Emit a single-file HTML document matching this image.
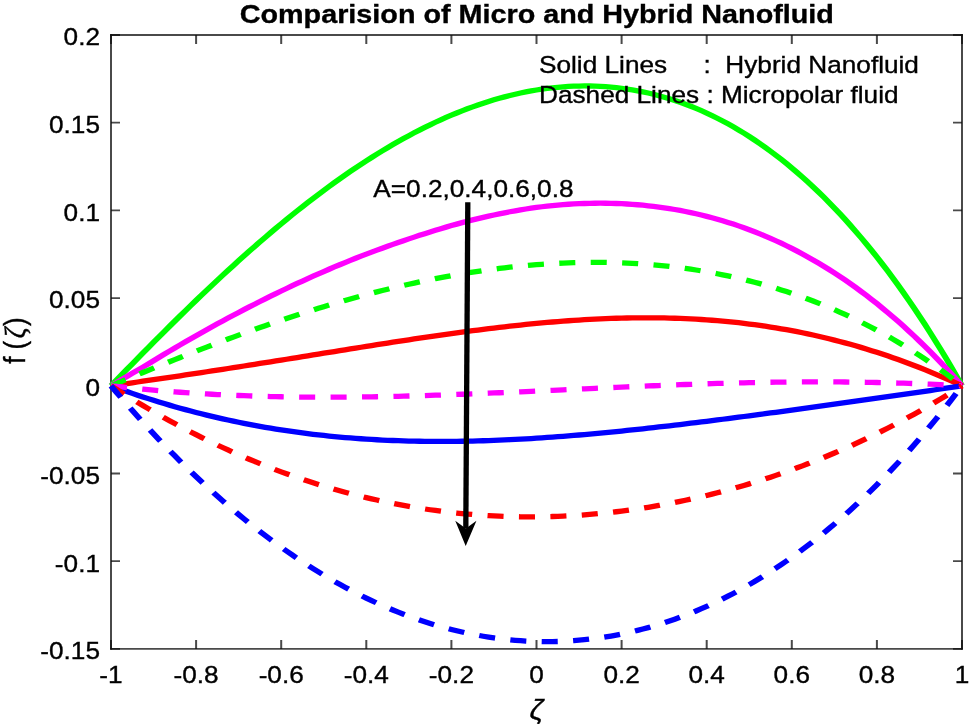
<!DOCTYPE html>
<html><head><meta charset="utf-8"><title>Comparision of Micro and Hybrid Nanofluid</title>
<style>
html,body{margin:0;padding:0;background:#fff;}
body{width:969px;height:724px;overflow:hidden;}
svg{display:block;}
svg text{font-family:"Liberation Sans",sans-serif;fill:#000;stroke:#000;stroke-width:0.35px;}
</style></head><body>
<svg width="969" height="724" viewBox="0 0 969 724">
<rect width="969" height="724" fill="#fff"/>
<g id="axes" stroke="#111111" stroke-opacity="0.76" fill="none">
<path d="M111.0,34.1 V649.8 M962.0,34.1 V649.8" stroke-width="2.0"/>
<path d="M110.0,35.0 H963.0 M110.0,648.9 H963.0" stroke-width="1.8"/>
<path d="M111.00,648.9 v-9 M111.00,35.0 v9 M196.10,648.9 v-9 M196.10,35.0 v9 M281.20,648.9 v-9 M281.20,35.0 v9 M366.30,648.9 v-9 M366.30,35.0 v9 M451.40,648.9 v-9 M451.40,35.0 v9 M536.50,648.9 v-9 M536.50,35.0 v9 M621.60,648.9 v-9 M621.60,35.0 v9 M706.70,648.9 v-9 M706.70,35.0 v9 M791.80,648.9 v-9 M791.80,35.0 v9 M876.90,648.9 v-9 M876.90,35.0 v9 M962.00,648.9 v-9 M962.00,35.0 v9" stroke-width="2.0"/>
<path d="M111.0,35.00 h9 M962.0,35.00 h-9 M111.0,122.70 h9 M962.0,122.70 h-9 M111.0,210.40 h9 M962.0,210.40 h-9 M111.0,298.10 h9 M962.0,298.10 h-9 M111.0,385.80 h9 M962.0,385.80 h-9 M111.0,473.50 h9 M962.0,473.50 h-9 M111.0,561.20 h9 M962.0,561.20 h-9 M111.0,648.90 h9 M962.0,648.90 h-9" stroke-width="1.8"/>
</g>
<g id="curves" transform="scale(1.115,1)">
<path d="M99.55,385.80 L104.32,380.31 L109.09,374.83 L113.86,369.36 L118.63,363.91 L123.40,358.49 L128.17,353.08 L132.94,347.69 L137.71,342.32 L142.48,336.98 L147.25,331.67 L152.02,326.38 L156.79,321.12 L161.56,315.89 L166.33,310.69 L171.10,305.53 L175.87,300.39 L180.64,295.30 L185.41,290.24 L190.18,285.21 L194.96,280.23 L199.73,275.28 L204.50,270.38 L209.27,265.52 L214.04,260.70 L218.81,255.93 L223.58,251.20 L228.35,246.52 L233.12,241.89 L237.89,237.31 L242.66,232.77 L247.43,228.29 L252.20,223.86 L256.97,219.48 L261.74,215.16 L266.51,210.89 L271.28,206.68 L276.05,202.53 L280.82,198.43 L285.59,194.40 L290.36,190.42 L295.13,186.50 L299.90,182.65 L304.67,178.86 L309.44,175.13 L314.21,171.47 L318.98,167.87 L323.75,164.33 L328.52,160.87 L333.29,157.47 L338.06,154.14 L342.83,150.88 L347.60,147.69 L352.37,144.57 L357.14,141.53 L361.91,138.55 L366.68,135.65 L371.45,132.83 L376.22,130.08 L380.99,127.40 L385.76,124.80 L390.53,122.28 L395.30,119.83 L400.07,117.47 L404.84,115.18 L409.61,112.98 L414.38,110.85 L419.15,108.81 L423.92,106.85 L428.69,104.97 L433.46,103.18 L438.23,101.47 L443.00,99.84 L447.77,98.30 L452.54,96.85 L457.32,95.49 L462.09,94.21 L466.86,93.02 L471.63,91.93 L476.40,90.92 L481.17,90.00 L485.94,89.18 L490.71,88.44 L495.48,87.80 L500.25,87.26 L505.02,86.81 L509.79,86.45 L514.56,86.19 L519.33,86.03 L524.10,85.96 L528.87,85.99 L533.64,86.12 L538.41,86.35 L543.18,86.69 L547.95,87.12 L552.72,87.65 L557.49,88.29 L562.26,89.03 L567.03,89.87 L571.80,90.82 L576.57,91.88 L581.34,93.04 L586.11,94.31 L590.88,95.69 L595.65,97.18 L600.42,98.77 L605.19,100.48 L609.96,102.30 L614.73,104.23 L619.50,106.28 L624.27,108.44 L629.04,110.71 L633.81,113.10 L638.58,115.61 L643.35,118.24 L648.12,120.98 L652.89,123.85 L657.66,126.83 L662.43,129.94 L667.20,133.17 L671.97,136.53 L676.74,140.01 L681.51,143.61 L686.28,147.34 L691.05,151.20 L695.82,155.19 L700.59,159.31 L705.36,163.56 L710.13,167.94 L714.90,172.46 L719.67,177.11 L724.45,181.90 L729.22,186.82 L733.99,191.88 L738.76,197.08 L743.53,202.43 L748.30,207.91 L753.07,213.54 L757.84,219.31 L762.61,225.23 L767.38,231.29 L772.15,237.51 L776.92,243.87 L781.69,250.39 L786.46,257.06 L791.23,263.88 L796.00,270.86 L800.77,277.99 L805.54,285.29 L810.31,292.74 L815.08,300.36 L819.85,308.14 L824.62,316.09 L829.39,324.20 L834.16,332.48 L838.93,340.93 L843.70,349.56 L848.47,358.35 L853.24,367.32 L858.01,376.47 L862.78,385.80" fill="none" stroke="#00ff00" stroke-width="5.3" stroke-linejoin="round"/>
<path d="M99.55,385.80 L104.32,382.63 L109.09,379.51 L113.86,376.41 L118.63,373.32 L123.40,370.22 L128.17,367.10 L132.94,363.95 L137.71,360.74 L142.48,357.51 L147.25,354.31 L152.02,351.14 L156.79,347.99 L161.56,344.88 L166.33,341.79 L171.10,338.73 L175.87,335.70 L180.64,332.69 L185.41,329.71 L190.18,326.76 L194.96,323.84 L199.73,320.95 L204.50,318.08 L209.27,315.25 L214.04,312.44 L218.81,309.66 L223.58,306.91 L228.35,304.18 L233.12,301.49 L237.89,298.83 L242.66,296.19 L247.43,293.59 L252.20,291.01 L256.97,288.47 L261.74,285.95 L266.51,283.47 L271.28,281.02 L276.05,278.60 L280.82,276.21 L285.59,273.85 L290.36,271.53 L295.13,269.24 L299.90,266.98 L304.67,264.75 L309.44,262.56 L314.21,260.40 L318.98,258.28 L323.75,256.19 L328.52,254.13 L333.29,252.11 L338.06,250.13 L342.83,248.18 L347.60,246.27 L352.37,244.38 L357.14,242.53 L361.91,240.69 L366.68,238.89 L371.45,237.11 L376.22,235.36 L380.99,233.64 L385.76,231.96 L390.53,230.31 L395.30,228.70 L400.07,227.13 L404.84,225.59 L409.61,224.10 L414.38,222.65 L419.15,221.25 L423.92,219.89 L428.69,218.58 L433.46,217.33 L438.23,216.12 L443.00,214.97 L447.77,213.86 L452.54,212.80 L457.32,211.78 L462.09,210.80 L466.86,209.88 L471.63,209.01 L476.40,208.20 L481.17,207.44 L485.94,206.75 L490.71,206.12 L495.48,205.56 L500.25,205.06 L505.02,204.64 L509.79,204.26 L514.56,203.95 L519.33,203.69 L524.10,203.48 L528.87,203.34 L533.64,203.25 L538.41,203.22 L543.18,203.26 L547.95,203.35 L552.72,203.51 L557.49,203.72 L562.26,204.01 L567.03,204.35 L571.80,204.76 L576.57,205.23 L581.34,205.78 L586.11,206.38 L590.88,207.06 L595.65,207.80 L600.42,208.62 L605.19,209.50 L609.96,210.46 L614.73,211.48 L619.50,212.58 L624.27,213.76 L629.04,215.00 L633.81,216.33 L638.58,217.73 L643.35,219.20 L648.12,220.75 L652.89,222.39 L657.66,224.10 L662.43,225.89 L667.20,227.76 L671.97,229.72 L676.74,231.75 L681.51,233.88 L686.28,236.08 L691.05,238.37 L695.82,240.75 L700.59,243.22 L705.36,245.77 L710.13,248.42 L714.90,251.15 L719.67,253.97 L724.45,256.89 L729.22,259.90 L733.99,263.00 L738.76,266.20 L743.53,269.50 L748.30,272.89 L753.07,276.38 L757.84,279.96 L762.61,283.65 L767.38,287.44 L772.15,291.33 L776.92,295.32 L781.69,299.41 L786.46,303.61 L791.23,307.92 L796.00,312.33 L800.77,316.85 L805.54,321.47 L810.31,326.21 L815.08,331.06 L819.85,336.01 L824.62,341.08 L829.39,346.27 L834.16,351.56 L838.93,356.98 L843.70,362.50 L848.47,368.15 L853.24,373.91 L858.01,379.80 L862.78,385.80" fill="none" stroke="#ff00ff" stroke-width="5.3" stroke-linejoin="round"/>
<path d="M99.55,385.80 L104.32,385.04 L109.09,384.29 L113.86,383.53 L118.63,382.76 L123.40,382.00 L128.17,381.23 L132.94,380.46 L137.71,379.69 L142.48,378.91 L147.25,378.13 L152.02,377.35 L156.79,376.56 L161.56,375.77 L166.33,374.98 L171.10,374.18 L175.87,373.38 L180.64,372.57 L185.41,371.76 L190.18,370.95 L194.96,370.13 L199.73,369.31 L204.50,368.49 L209.27,367.66 L214.04,366.83 L218.81,366.00 L223.58,365.16 L228.35,364.32 L233.12,363.48 L237.89,362.64 L242.66,361.79 L247.43,360.94 L252.20,360.09 L256.97,359.24 L261.74,358.38 L266.51,357.52 L271.28,356.67 L276.05,355.81 L280.82,354.95 L285.59,354.09 L290.36,353.23 L295.13,352.37 L299.90,351.52 L304.67,350.66 L309.44,349.80 L314.21,348.95 L318.98,348.10 L323.75,347.25 L328.52,346.40 L333.29,345.56 L338.06,344.72 L342.83,343.88 L347.60,343.05 L352.37,342.22 L357.14,341.40 L361.91,340.59 L366.68,339.78 L371.45,338.97 L376.22,338.18 L380.99,337.39 L385.76,336.61 L390.53,335.84 L395.30,335.07 L400.07,334.32 L404.84,333.57 L409.61,332.84 L414.38,332.12 L419.15,331.41 L423.92,330.71 L428.69,330.02 L433.46,329.35 L438.23,328.69 L443.00,328.04 L447.77,327.41 L452.54,326.79 L457.32,326.19 L462.09,325.60 L466.86,325.03 L471.63,324.48 L476.40,323.95 L481.17,323.43 L485.94,322.93 L490.71,322.46 L495.48,322.00 L500.25,321.56 L505.02,321.15 L509.79,320.75 L514.56,320.38 L519.33,320.03 L524.10,319.70 L528.87,319.40 L533.64,319.12 L538.41,318.87 L543.18,318.64 L547.95,318.44 L552.72,318.26 L557.49,318.11 L562.26,317.99 L567.03,317.90 L571.80,317.84 L576.57,317.80 L581.34,317.79 L586.11,317.82 L590.88,317.88 L595.65,317.96 L600.42,318.08 L605.19,318.23 L609.96,318.42 L614.73,318.63 L619.50,318.88 L624.27,319.17 L629.04,319.49 L633.81,319.84 L638.58,320.24 L643.35,320.66 L648.12,321.13 L652.89,321.63 L657.66,322.17 L662.43,322.74 L667.20,323.36 L671.97,324.01 L676.74,324.71 L681.51,325.44 L686.28,326.21 L691.05,327.03 L695.82,327.88 L700.59,328.78 L705.36,329.71 L710.13,330.69 L714.90,331.71 L719.67,332.78 L724.45,333.89 L729.22,335.04 L733.99,336.23 L738.76,337.47 L743.53,338.75 L748.30,340.08 L753.07,341.45 L757.84,342.87 L762.61,344.33 L767.38,345.84 L772.15,347.39 L776.92,348.99 L781.69,350.64 L786.46,352.33 L791.23,354.07 L796.00,355.85 L800.77,357.69 L805.54,359.57 L810.31,361.49 L815.08,363.47 L819.85,365.49 L824.62,367.55 L829.39,369.67 L834.16,371.83 L838.93,374.04 L843.70,376.30 L848.47,378.60 L853.24,380.95 L858.01,383.35 L862.78,385.80" fill="none" stroke="#ff0000" stroke-width="5.3" stroke-linejoin="round"/>
<path d="M99.55,385.80 L104.32,387.75 L109.09,389.65 L113.86,391.52 L118.63,393.36 L123.40,395.15 L128.17,396.91 L132.94,398.63 L137.71,400.31 L142.48,401.96 L147.25,403.56 L152.02,405.13 L156.79,406.67 L161.56,408.17 L166.33,409.63 L171.10,411.05 L175.87,412.44 L180.64,413.79 L185.41,415.11 L190.18,416.39 L194.96,417.64 L199.73,418.85 L204.50,420.02 L209.27,421.16 L214.04,422.27 L218.81,423.34 L223.58,424.38 L228.35,425.38 L233.12,426.35 L237.89,427.29 L242.66,428.19 L247.43,429.06 L252.20,429.90 L256.97,430.70 L261.74,431.48 L266.51,432.22 L271.28,432.93 L276.05,433.61 L280.82,434.26 L285.59,434.88 L290.36,435.46 L295.13,436.02 L299.90,436.55 L304.67,437.05 L309.44,437.52 L314.21,437.96 L318.98,438.38 L323.75,438.76 L328.52,439.12 L333.29,439.45 L338.06,439.76 L342.83,440.03 L347.60,440.28 L352.37,440.51 L357.14,440.71 L361.91,440.89 L366.68,441.04 L371.45,441.16 L376.22,441.26 L380.99,441.34 L385.76,441.40 L390.53,441.43 L395.30,441.44 L400.07,441.43 L404.84,441.39 L409.61,441.34 L414.38,441.26 L419.15,441.16 L423.92,441.05 L428.69,440.91 L433.46,440.75 L438.23,440.58 L443.00,440.38 L447.77,440.17 L452.54,439.94 L457.32,439.69 L462.09,439.42 L466.86,439.14 L471.63,438.84 L476.40,438.52 L481.17,438.19 L485.94,437.84 L490.71,437.48 L495.48,437.10 L500.25,436.71 L505.02,436.30 L509.79,435.88 L514.56,435.45 L519.33,435.01 L524.10,434.55 L528.87,434.08 L533.64,433.59 L538.41,433.10 L543.18,432.59 L547.95,432.08 L552.72,431.55 L557.49,431.01 L562.26,430.47 L567.03,429.91 L571.80,429.34 L576.57,428.77 L581.34,428.18 L586.11,427.59 L590.88,426.99 L595.65,426.38 L600.42,425.77 L605.19,425.14 L609.96,424.51 L614.73,423.88 L619.50,423.23 L624.27,422.59 L629.04,421.93 L633.81,421.27 L638.58,420.60 L643.35,419.93 L648.12,419.25 L652.89,418.57 L657.66,417.89 L662.43,417.20 L667.20,416.50 L671.97,415.80 L676.74,415.10 L681.51,414.39 L686.28,413.68 L691.05,412.97 L695.82,412.26 L700.59,411.54 L705.36,410.82 L710.13,410.09 L714.90,409.36 L719.67,408.64 L724.45,407.90 L729.22,407.17 L733.99,406.43 L738.76,405.70 L743.53,404.96 L748.30,404.21 L753.07,403.47 L757.84,402.72 L762.61,401.98 L767.38,401.23 L772.15,400.48 L776.92,399.72 L781.69,398.97 L786.46,398.21 L791.23,397.45 L796.00,396.69 L800.77,395.93 L805.54,395.17 L810.31,394.40 L815.08,393.63 L819.85,392.86 L824.62,392.09 L829.39,391.31 L834.16,390.53 L838.93,389.75 L843.70,388.97 L848.47,388.18 L853.24,387.39 L858.01,386.60 L862.78,385.80" fill="none" stroke="#0000ff" stroke-width="5.3" stroke-linejoin="round"/>
<path d="M99.55,385.80 L104.32,383.57 L109.09,381.35 L113.86,379.13 L118.63,376.92 L123.40,374.72 L128.17,372.53 L132.94,370.35 L137.71,368.18 L142.48,366.01 L147.25,363.86 L152.02,361.72 L156.79,359.59 L161.56,357.48 L166.33,355.37 L171.10,353.28 L175.87,351.21 L180.64,349.15 L185.41,347.10 L190.18,345.07 L194.96,343.05 L199.73,341.05 L204.50,339.07 L209.27,337.11 L214.04,335.16 L218.81,333.23 L223.58,331.32 L228.35,329.42 L233.12,327.55 L237.89,325.69 L242.66,323.86 L247.43,322.04 L252.20,320.25 L256.97,318.47 L261.74,316.72 L266.51,314.99 L271.28,313.28 L276.05,311.60 L280.82,309.93 L285.59,308.29 L290.36,306.67 L295.13,305.08 L299.90,303.51 L304.67,301.97 L309.44,300.45 L314.21,298.95 L318.98,297.48 L323.75,296.03 L328.52,294.62 L333.29,293.22 L338.06,291.86 L342.83,290.52 L347.60,289.21 L352.37,287.92 L357.14,286.66 L361.91,285.43 L366.68,284.23 L371.45,283.06 L376.22,281.92 L380.99,280.80 L385.76,279.72 L390.53,278.66 L395.30,277.64 L400.07,276.65 L404.84,275.68 L409.61,274.75 L414.38,273.85 L419.15,272.98 L423.92,272.14 L428.69,271.33 L433.46,270.56 L438.23,269.82 L443.00,269.11 L447.77,268.43 L452.54,267.79 L457.32,267.19 L462.09,266.61 L466.86,266.07 L471.63,265.57 L476.40,265.10 L481.17,264.67 L485.94,264.27 L490.71,263.91 L495.48,263.59 L500.25,263.30 L505.02,263.05 L509.79,262.84 L514.56,262.66 L519.33,262.53 L524.10,262.43 L528.87,262.37 L533.64,262.35 L538.41,262.37 L543.18,262.43 L547.95,262.53 L552.72,262.68 L557.49,262.86 L562.26,263.08 L567.03,263.35 L571.80,263.66 L576.57,264.01 L581.34,264.41 L586.11,264.85 L590.88,265.34 L595.65,265.86 L600.42,266.44 L605.19,267.06 L609.96,267.73 L614.73,268.44 L619.50,269.20 L624.27,270.01 L629.04,270.87 L633.81,271.77 L638.58,272.73 L643.35,273.73 L648.12,274.79 L652.89,275.89 L657.66,277.05 L662.43,278.26 L667.20,279.52 L671.97,280.84 L676.74,282.21 L681.51,283.64 L686.28,285.12 L691.05,286.65 L695.82,288.24 L700.59,289.89 L705.36,291.60 L710.13,293.37 L714.90,295.20 L719.67,297.08 L724.45,299.03 L729.22,301.04 L733.99,303.11 L738.76,305.24 L743.53,307.44 L748.30,309.70 L753.07,312.03 L757.84,314.43 L762.61,316.89 L767.38,319.42 L772.15,322.02 L776.92,324.69 L781.69,327.43 L786.46,330.24 L791.23,333.13 L796.00,336.08 L800.77,339.12 L805.54,342.22 L810.31,345.41 L815.08,348.67 L819.85,352.01 L824.62,355.43 L829.39,358.94 L834.16,362.52 L838.93,366.18 L843.70,369.94 L848.47,373.77 L853.24,377.69 L858.01,381.70 L862.78,385.80" fill="none" stroke="#00ff00" stroke-width="5.3" stroke-linejoin="round" stroke-dasharray="14.4 13.8"/>
<path d="M99.55,385.80 L104.32,386.40 L109.09,386.99 L113.86,387.55 L118.63,388.10 L123.40,388.63 L128.17,389.15 L132.94,389.64 L137.71,390.12 L142.48,390.58 L147.25,391.02 L152.02,391.45 L156.79,391.86 L161.56,392.25 L166.33,392.63 L171.10,392.99 L175.87,393.33 L180.64,393.66 L185.41,393.97 L190.18,394.26 L194.96,394.55 L199.73,394.81 L204.50,395.06 L209.27,395.29 L214.04,395.51 L218.81,395.72 L223.58,395.91 L228.35,396.09 L233.12,396.25 L237.89,396.40 L242.66,396.53 L247.43,396.66 L252.20,396.77 L256.97,396.86 L261.74,396.95 L266.51,397.02 L271.28,397.08 L276.05,397.12 L280.82,397.16 L285.59,397.18 L290.36,397.19 L295.13,397.19 L299.90,397.18 L304.67,397.16 L309.44,397.13 L314.21,397.09 L318.98,397.03 L323.75,396.97 L328.52,396.90 L333.29,396.82 L338.06,396.73 L342.83,396.63 L347.60,396.53 L352.37,396.41 L357.14,396.29 L361.91,396.16 L366.68,396.02 L371.45,395.87 L376.22,395.72 L380.99,395.56 L385.76,395.39 L390.53,395.22 L395.30,395.04 L400.07,394.86 L404.84,394.67 L409.61,394.47 L414.38,394.27 L419.15,394.06 L423.92,393.85 L428.69,393.64 L433.46,393.42 L438.23,393.20 L443.00,392.97 L447.77,392.74 L452.54,392.51 L457.32,392.27 L462.09,392.04 L466.86,391.79 L471.63,391.55 L476.40,391.31 L481.17,391.06 L485.94,390.81 L490.71,390.57 L495.48,390.32 L500.25,390.07 L505.02,389.82 L509.79,389.57 L514.56,389.32 L519.33,389.07 L524.10,388.82 L528.87,388.57 L533.64,388.32 L538.41,388.08 L543.18,387.83 L547.95,387.59 L552.72,387.35 L557.49,387.11 L562.26,386.87 L567.03,386.64 L571.80,386.41 L576.57,386.19 L581.34,385.96 L586.11,385.74 L590.88,385.53 L595.65,385.32 L600.42,385.11 L605.19,384.91 L609.96,384.71 L614.73,384.51 L619.50,384.33 L624.27,384.14 L629.04,383.97 L633.81,383.80 L638.58,383.63 L643.35,383.47 L648.12,383.32 L652.89,383.18 L657.66,383.04 L662.43,382.91 L667.20,382.78 L671.97,382.66 L676.74,382.55 L681.51,382.45 L686.28,382.36 L691.05,382.27 L695.82,382.19 L700.59,382.13 L705.36,382.07 L710.13,382.01 L714.90,381.97 L719.67,381.94 L724.45,381.91 L729.22,381.90 L733.99,381.89 L738.76,381.90 L743.53,381.91 L748.30,381.94 L753.07,381.97 L757.84,382.01 L762.61,382.07 L767.38,382.13 L772.15,382.21 L776.92,382.30 L781.69,382.39 L786.46,382.50 L791.23,382.62 L796.00,382.75 L800.77,382.89 L805.54,383.05 L810.31,383.21 L815.08,383.39 L819.85,383.58 L824.62,383.78 L829.39,383.99 L834.16,384.21 L838.93,384.45 L843.70,384.69 L848.47,384.95 L853.24,385.22 L858.01,385.50 L862.78,385.80" fill="none" stroke="#ff00ff" stroke-width="5.3" stroke-linejoin="round" stroke-dasharray="14.4 13.8"/>
<path d="M99.55,385.80 L104.32,389.20 L109.09,392.55 L113.86,395.86 L118.63,399.12 L123.40,402.34 L128.17,405.51 L132.94,408.63 L137.71,411.71 L142.48,414.74 L147.25,417.72 L152.02,420.66 L156.79,423.56 L161.56,426.40 L166.33,429.20 L171.10,431.96 L175.87,434.67 L180.64,437.33 L185.41,439.95 L190.18,442.52 L194.96,445.04 L199.73,447.52 L204.50,449.96 L209.27,452.35 L214.04,454.69 L218.81,456.99 L223.58,459.25 L228.35,461.45 L233.12,463.62 L237.89,465.74 L242.66,467.81 L247.43,469.84 L252.20,471.83 L256.97,473.77 L261.74,475.66 L266.51,477.51 L271.28,479.32 L276.05,481.09 L280.82,482.81 L285.59,484.48 L290.36,486.11 L295.13,487.70 L299.90,489.25 L304.67,490.75 L309.44,492.21 L314.21,493.62 L318.98,494.99 L323.75,496.32 L328.52,497.61 L333.29,498.85 L338.06,500.05 L342.83,501.21 L347.60,502.33 L352.37,503.40 L357.14,504.43 L361.91,505.42 L366.68,506.37 L371.45,507.28 L376.22,508.14 L380.99,508.96 L385.76,509.75 L390.53,510.49 L395.30,511.18 L400.07,511.84 L404.84,512.46 L409.61,513.03 L414.38,513.57 L419.15,514.06 L423.92,514.52 L428.69,514.93 L433.46,515.30 L438.23,515.64 L443.00,515.93 L447.77,516.18 L452.54,516.39 L457.32,516.57 L462.09,516.70 L466.86,516.79 L471.63,516.85 L476.40,516.86 L481.17,516.83 L485.94,516.77 L490.71,516.66 L495.48,516.52 L500.25,516.34 L505.02,516.11 L509.79,515.85 L514.56,515.55 L519.33,515.21 L524.10,514.84 L528.87,514.42 L533.64,513.96 L538.41,513.47 L543.18,512.94 L547.95,512.36 L552.72,511.75 L557.49,511.10 L562.26,510.41 L567.03,509.69 L571.80,508.92 L576.57,508.12 L581.34,507.28 L586.11,506.39 L590.88,505.47 L595.65,504.51 L600.42,503.52 L605.19,502.48 L609.96,501.41 L614.73,500.29 L619.50,499.14 L624.27,497.95 L629.04,496.72 L633.81,495.45 L638.58,494.14 L643.35,492.79 L648.12,491.41 L652.89,489.98 L657.66,488.51 L662.43,487.01 L667.20,485.46 L671.97,483.88 L676.74,482.26 L681.51,480.59 L686.28,478.89 L691.05,477.14 L695.82,475.36 L700.59,473.53 L705.36,471.67 L710.13,469.76 L714.90,467.81 L719.67,465.83 L724.45,463.80 L729.22,461.72 L733.99,459.61 L738.76,457.46 L743.53,455.26 L748.30,453.02 L753.07,450.74 L757.84,448.41 L762.61,446.04 L767.38,443.63 L772.15,441.18 L776.92,438.68 L781.69,436.13 L786.46,433.54 L791.23,430.91 L796.00,428.23 L800.77,425.51 L805.54,422.74 L810.31,419.92 L815.08,417.06 L819.85,414.15 L824.62,411.20 L829.39,408.19 L834.16,405.14 L838.93,402.04 L843.70,398.89 L848.47,395.69 L853.24,392.45 L858.01,389.15 L862.78,385.80" fill="none" stroke="#ff0000" stroke-width="5.3" stroke-linejoin="round" stroke-dasharray="14.4 13.8"/>
<path d="M99.55,385.80 L104.32,392.08 L109.09,398.28 L113.86,404.39 L118.63,410.43 L123.40,416.39 L128.17,422.26 L132.94,428.06 L137.71,433.78 L142.48,439.42 L147.25,444.97 L152.02,450.45 L156.79,455.85 L161.56,461.17 L166.33,466.41 L171.10,471.57 L175.87,476.65 L180.64,481.65 L185.41,486.58 L190.18,491.42 L194.96,496.19 L199.73,500.88 L204.50,505.49 L209.27,510.02 L214.04,514.47 L218.81,518.84 L223.58,523.14 L228.35,527.36 L233.12,531.50 L237.89,535.56 L242.66,539.55 L247.43,543.45 L252.20,547.28 L256.97,551.04 L261.74,554.71 L266.51,558.31 L271.28,561.83 L276.05,565.28 L280.82,568.64 L285.59,571.93 L290.36,575.15 L295.13,578.28 L299.90,581.34 L304.67,584.33 L309.44,587.24 L314.21,590.07 L318.98,592.82 L323.75,595.50 L328.52,598.11 L333.29,600.63 L338.06,603.09 L342.83,605.46 L347.60,607.76 L352.37,609.98 L357.14,612.13 L361.91,614.21 L366.68,616.20 L371.45,618.12 L376.22,619.97 L380.99,621.74 L385.76,623.44 L390.53,625.06 L395.30,626.60 L400.07,628.07 L404.84,629.46 L409.61,630.78 L414.38,632.02 L419.15,633.19 L423.92,634.28 L428.69,635.30 L433.46,636.24 L438.23,637.11 L443.00,637.90 L447.77,638.61 L452.54,639.25 L457.32,639.82 L462.09,640.31 L466.86,640.72 L471.63,641.06 L476.40,641.32 L481.17,641.50 L485.94,641.61 L490.71,641.64 L495.48,641.60 L500.25,641.48 L505.02,641.28 L509.79,641.01 L514.56,640.66 L519.33,640.23 L524.10,639.73 L528.87,639.15 L533.64,638.49 L538.41,637.75 L543.18,636.94 L547.95,636.04 L552.72,635.07 L557.49,634.03 L562.26,632.90 L567.03,631.69 L571.80,630.41 L576.57,629.04 L581.34,627.60 L586.11,626.08 L590.88,624.47 L595.65,622.79 L600.42,621.02 L605.19,619.17 L609.96,617.25 L614.73,615.24 L619.50,613.15 L624.27,610.97 L629.04,608.72 L633.81,606.38 L638.58,603.95 L643.35,601.45 L648.12,598.85 L652.89,596.18 L657.66,593.42 L662.43,590.57 L667.20,587.64 L671.97,584.62 L676.74,581.51 L681.51,578.31 L686.28,575.03 L691.05,571.66 L695.82,568.20 L700.59,564.65 L705.36,561.01 L710.13,557.28 L714.90,553.46 L719.67,549.54 L724.45,545.54 L729.22,541.44 L733.99,537.24 L738.76,532.95 L743.53,528.57 L748.30,524.09 L753.07,519.51 L757.84,514.84 L762.61,510.07 L767.38,505.20 L772.15,500.23 L776.92,495.16 L781.69,489.99 L786.46,484.72 L791.23,479.34 L796.00,473.87 L800.77,468.28 L805.54,462.59 L810.31,456.80 L815.08,450.90 L819.85,444.89 L824.62,438.77 L829.39,432.55 L834.16,426.21 L838.93,419.76 L843.70,413.20 L848.47,406.52 L853.24,399.73 L858.01,392.82 L862.78,385.80" fill="none" stroke="#0000ff" stroke-width="5.3" stroke-linejoin="round" stroke-dasharray="14.4 13.8"/>
</g>
<g id="arrow"><path d="M467.8,202.3 L465.81,528.50" stroke="#000" stroke-width="5.3" fill="none"/><path d="M465.70,545.90 L455.25,520.74 L465.81,528.50 L476.45,520.87 Z" fill="#000"/></g>
<g id="labels">
<text transform="translate(111.00,683.00) scale(1.115,1)" font-size="23.5" text-anchor="middle" font-weight="normal">-1</text>
<text transform="translate(196.10,683.00) scale(1.115,1)" font-size="23.5" text-anchor="middle" font-weight="normal">-0.8</text>
<text transform="translate(281.20,683.00) scale(1.115,1)" font-size="23.5" text-anchor="middle" font-weight="normal">-0.6</text>
<text transform="translate(366.30,683.00) scale(1.115,1)" font-size="23.5" text-anchor="middle" font-weight="normal">-0.4</text>
<text transform="translate(451.40,683.00) scale(1.115,1)" font-size="23.5" text-anchor="middle" font-weight="normal">-0.2</text>
<text transform="translate(536.50,683.00) scale(1.115,1)" font-size="23.5" text-anchor="middle" font-weight="normal">0</text>
<text transform="translate(621.60,683.00) scale(1.115,1)" font-size="23.5" text-anchor="middle" font-weight="normal">0.2</text>
<text transform="translate(706.70,683.00) scale(1.115,1)" font-size="23.5" text-anchor="middle" font-weight="normal">0.4</text>
<text transform="translate(791.80,683.00) scale(1.115,1)" font-size="23.5" text-anchor="middle" font-weight="normal">0.6</text>
<text transform="translate(876.90,683.00) scale(1.115,1)" font-size="23.5" text-anchor="middle" font-weight="normal">0.8</text>
<text transform="translate(962.00,683.00) scale(1.115,1)" font-size="23.5" text-anchor="middle" font-weight="normal">1</text>
<text transform="translate(100.00,45.30) scale(1.115,1)" font-size="23.5" text-anchor="end" font-weight="normal">0.2</text>
<text transform="translate(100.00,133.00) scale(1.115,1)" font-size="23.5" text-anchor="end" font-weight="normal">0.15</text>
<text transform="translate(100.00,220.70) scale(1.115,1)" font-size="23.5" text-anchor="end" font-weight="normal">0.1</text>
<text transform="translate(100.00,308.40) scale(1.115,1)" font-size="23.5" text-anchor="end" font-weight="normal">0.05</text>
<text transform="translate(100.00,396.10) scale(1.115,1)" font-size="23.5" text-anchor="end" font-weight="normal">0</text>
<text transform="translate(100.00,483.80) scale(1.115,1)" font-size="23.5" text-anchor="end" font-weight="normal">-0.05</text>
<text transform="translate(100.00,571.50) scale(1.115,1)" font-size="23.5" text-anchor="end" font-weight="normal">-0.1</text>
<text transform="translate(100.00,659.20) scale(1.115,1)" font-size="23.5" text-anchor="end" font-weight="normal">-0.15</text>
<text transform="translate(536.80,23.10) scale(1.113,1)" font-size="25.85" text-anchor="middle" font-weight="bold">Comparision of Micro and Hybrid Nanofluid</text>
<text transform="translate(539.00,72.70) scale(1.115,1)" font-size="23.5" text-anchor="start" font-weight="normal" xml:space="preserve" style="white-space:pre">Solid Lines     :  Hybrid Nanofluid</text>
<text transform="translate(539.00,102.70) scale(1.115,1)" font-size="23.5" text-anchor="start" font-weight="normal" xml:space="preserve" style="white-space:pre">Dashed Lines : Micropolar fluid</text>
<text transform="translate(373.30,196.70) scale(1.115,1)" font-size="23.5" text-anchor="start" font-weight="normal">A=0.2,0.4,0.6,0.8</text>
<text transform="translate(536.5,719.0) scale(1.115,1)" font-size="27" text-anchor="middle" font-family="'Liberation Serif','DejaVu Serif',serif" font-style="italic" stroke="#000" stroke-width="0.4">ζ</text>
<text transform="translate(24.6,363.8) rotate(-90) scale(1.0,1.115)" font-size="25.85" text-anchor="start" xml:space="preserve">f (<tspan dx="2.5" font-family="'Liberation Serif','DejaVu Serif',serif" font-style="italic" font-size="26.5" stroke="#000" stroke-width="0.4">ζ</tspan><tspan dx="1.5">)</tspan></text>
</g>
</svg>
</body></html>
